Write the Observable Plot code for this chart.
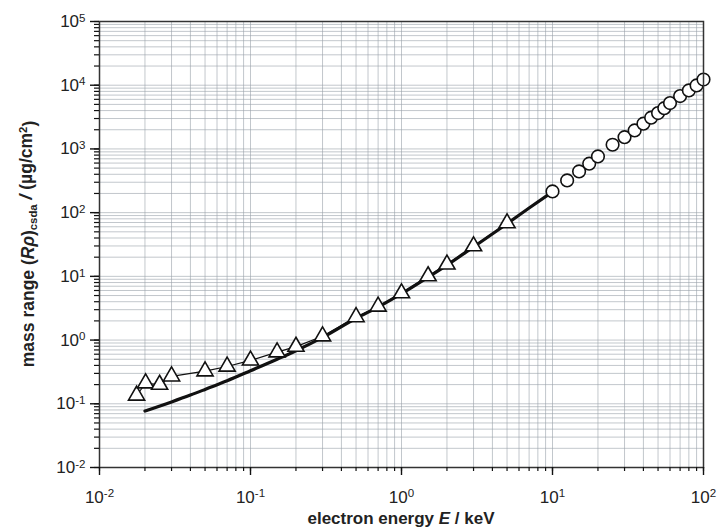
<!DOCTYPE html>
<html>
<head>
<meta charset="utf-8">
<script src="https://cdn.jsdelivr.net/npm/d3@7"></script>
<script src="https://cdn.jsdelivr.net/npm/@observablehq/plot@0.6"></script>
<style>
  html, body { margin: 0; padding: 0; background: #fff; }
  #chart svg { display: block; }
</style>
</head>
<body>
<div id="chart"></div>
<script>
// Experimental data (triangles), keV and µg/cm²
const triE = [0.0176, 0.0202, 0.025, 0.03, 0.05, 0.07, 0.1, 0.15, 0.2, 0.3, 0.5, 0.7, 1.0, 1.5, 2.0, 3.0, 5.0];
const triR = [0.135, 0.21, 0.20, 0.27, 0.325, 0.385, 0.48, 0.646, 0.79, 1.15, 2.3, 3.37, 5.45, 10.1, 15.4, 29.8, 68.4];

// Tabulated data (circles)
const cirE = [10, 12.5, 15, 17.5, 20, 25, 30, 35, 40, 45, 50, 55, 60, 70, 80, 90, 100];
const cirR = [215, 320, 443, 586, 762, 1164, 1530, 1950, 2490, 3090, 3650, 4360, 5240, 6750, 8280, 9930, 12300];

// CSDA curve (thick line)
const curveE = [0.02, 0.03, 0.04, 0.05, 0.07, 0.1, 0.15, 0.2, 0.3, 0.5, 0.7, 1.0, 1.5, 2.0, 3.0, 5.0, 7.0, 10.0];
const curveR = [0.077, 0.107, 0.137, 0.168, 0.23, 0.33, 0.5, 0.68, 1.1, 2.2, 3.3, 5.35, 9.7, 15, 29, 67, 118, 212];

// Tick labels (decades)
const xDecades = [0.01, 0.1, 1, 10, 100];
const yDecades = [0.01, 0.1, 1, 10, 100, 1000, 10000, 100000];

const xMinor = d3.scaleLog().domain([0.01, 100]).ticks();
const yMinor = d3.scaleLog().domain([0.01, 100000]).ticks();

const tri = triE.map((e, i) => ({E: e, R: triR[i]}));
const cir = cirE.map((e, i) => ({E: e, R: cirR[i]}));
const curve = curveE.map((e, i) => ({E: e, R: curveR[i]}));

const fmt = d => "10^" + Math.round(Math.log10(d));

const chart = Plot.plot({
  width: 718,
  height: 531,
  marginLeft: 99,
  marginRight: 15,
  marginTop: 21,
  marginBottom: 64,
  style: {fontFamily: "Liberation Sans, Arial, sans-serif", background: "#fff"},
  x: {type: "log", domain: [0.01, 100]},
  y: {type: "log", domain: [0.01, 100000]},
  marks: [
    Plot.gridX(xMinor, {stroke: "#9aa1aa", strokeOpacity: 0.6, strokeWidth: 1}),
    Plot.gridY(yMinor, {stroke: "#9aa1aa", strokeOpacity: 0.6, strokeWidth: 1}),
    Plot.line(tri, {x: "E", y: "R", stroke: "#111", strokeWidth: 1.2}),
    Plot.line(curve, {x: "E", y: "R", stroke: "#111", strokeWidth: 3.2, curve: "monotone-x"}),
    Plot.dot(tri, {x: "E", y: "R", symbol: "triangle", r: 6, fill: "#fff", stroke: "#111", strokeWidth: 1.6}),
    Plot.dot(cir, {x: "E", y: "R", r: 6.3, fill: "#fff", stroke: "#111", strokeWidth: 1.6}),
    Plot.frame({stroke: "#333", strokeWidth: 1.5}),
    Plot.axisX(xMinor, {tickSize: 4, tickFormat: () => "", label: null, stroke: "#111", strokeWidth: 1.2}),
    Plot.axisX(xDecades, {tickSize: 8, tickPadding: 15, tickFormat: fmt, label: null, fontSize: 17, fill: "#222", stroke: "#111", strokeWidth: 1.4}),
    Plot.axisY(yMinor, {tickSize: 5, tickFormat: () => "", label: null, stroke: "#111", strokeWidth: 1.2}),
    Plot.axisY(yDecades, {tickSize: 9, tickPadding: 5, tickFormat: fmt, label: null, fontSize: 17, fill: "#222", stroke: "#111", strokeWidth: 1.4})
  ]
});

document.getElementById("chart").appendChild(chart);

// Turn "10^n" labels into superscripts
const svg = d3.select(chart.tagName === "svg" ? chart : chart.querySelector("svg"));
svg.selectAll("text").each(function() {
  const t = this.textContent;
  const m = /^10\^(-?\d+)$/.exec(t);
  if (!m) return;
  const el = d3.select(this);
  el.text(null);
  el.append("tspan").text("10");
  el.append("tspan").attr("dy", "-0.45em").attr("font-size", "0.68em").text(m[1]);
});

// Axis titles
const yl = svg.append("text")
  .attr("transform", "translate(34,244) rotate(-90)")
  .attr("text-anchor", "middle")
  .attr("font-family", "Liberation Sans, Arial, sans-serif")
  .attr("font-weight", "bold")
  .attr("font-size", 17.5)
  .attr("fill", "#222");
yl.append("tspan").text("mass range (");
yl.append("tspan").attr("font-style", "italic").text("Rρ");
yl.append("tspan").text(")");
yl.append("tspan").attr("dy", "0.3em").attr("font-size", "0.65em").text("csda");
yl.append("tspan").attr("dy", "-0.3em").attr("font-style", "italic").text(" / ");
yl.append("tspan").text("(µg/cm");
yl.append("tspan").attr("dy", "-0.45em").attr("font-size", "0.65em").text("2");
yl.append("tspan").attr("dy", "0.45em").text(")");

const xl = svg.append("text")
  .attr("x", 401)
  .attr("y", 524)
  .attr("text-anchor", "middle")
  .attr("font-family", "Liberation Sans, Arial, sans-serif")
  .attr("font-weight", "bold")
  .attr("font-size", 17)
  .attr("fill", "#222");
xl.append("tspan").text("electron energy ");
xl.append("tspan").attr("font-style", "italic").text("E");
xl.append("tspan").text(" / keV");
</script>
</body>
</html>
